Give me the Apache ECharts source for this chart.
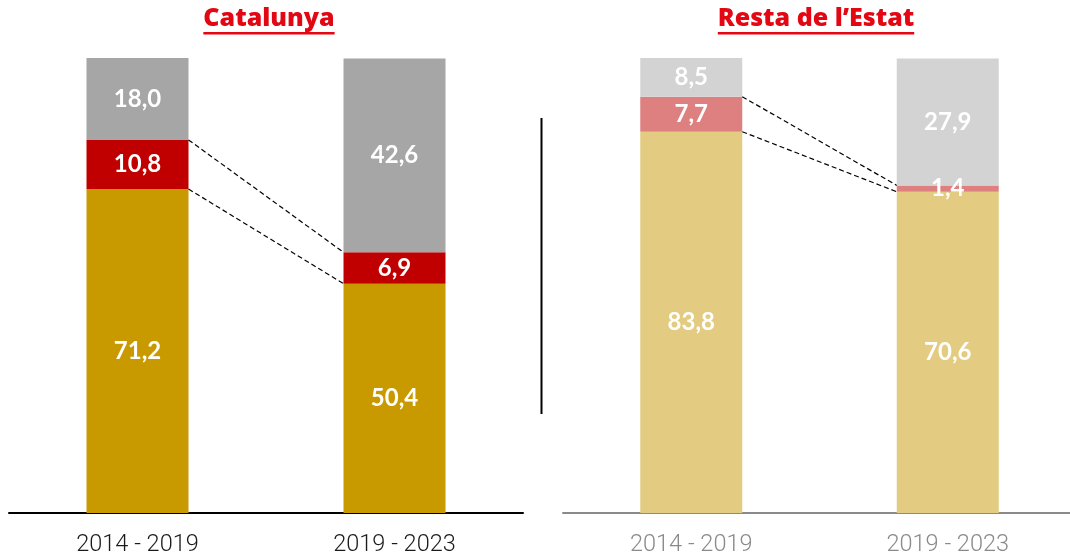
<!DOCTYPE html>
<html>
<head>
<meta charset="utf-8">
<script src="https://cdn.jsdelivr.net/npm/echarts@6/dist/echarts.min.js"></script>
<style>
  html, body { margin: 0; padding: 0; background: #fff; }
  #chart { width: 1070px; height: 556px; }
</style>
</head>
<body>
<div id="chart"></div>
<script>
// periodes
var periods = ['2014 - 2019', '2019 - 2023'];
var panelTitles = ['Catalunya', 'Resta de l\u2019Estat'];

// Catalunya
var catGold = [71.2, 50.4];
var catRed = [10.8, 6.9];
var catGrey = [18.0, 42.6];

// Resta de l'Estat
var restGold = [83.8, 70.6];
var restRed = [7.7, 1.4];
var restGrey = [8.5, 27.9];

var BAR_W = 102;
var TITLE_FONT = '800 25px "Open Sans"';

function fmt(p) {
    return p.value.toFixed(1).replace('.', ',');
}

// mesura text per al subratllat
function textWidth(txt) {
    return echarts.format.getTextRect
        ? echarts.format.getTextRect(txt, TITLE_FONT).width
        : txt.length * 14;
}

function barSeries(name, data, color, idx, stack) {
    return {
        name: name,
        type: 'bar',
        stack: stack,
        xAxisIndex: idx,
        yAxisIndex: idx,
        barWidth: BAR_W,
        data: data,
        itemStyle: { color: color },
        label: {
            show: true,
            position: 'inside',
            color: '#fff',
            fontFamily: 'Lato',
            fontWeight: 'bold',
            fontSize: 24,
            formatter: fmt
        }
    };
}

// linies discontinues entre els trams
function connectorSeries(gold, red, idx) {
    var rows = [
        [0, gold[0] + red[0], gold[1] + red[1]],
        [0, gold[0], gold[1]]
    ];
    return {
        type: 'custom',
        xAxisIndex: idx,
        yAxisIndex: idx,
        encode: { x: 0, y: 1 },
        data: rows,
        z: 5,
        silent: true,
        renderItem: function (params, api) {
            var p0 = api.coord([0, api.value(1)]);
            var p1 = api.coord([1, api.value(2)]);
            return {
                type: 'line',
                shape: { x1: p0[0] + BAR_W / 2, y1: p0[1], x2: p1[0] - BAR_W / 2, y2: p1[1] },
                style: { stroke: '#000', lineWidth: 1.2, lineDash: [5, 3] }
            };
        }
    };
}

function xAxis(idx, lineColor, labelColor) {
    return {
        type: 'category',
        gridIndex: idx,
        data: periods,
        axisTick: { show: false },
        axisLine: { lineStyle: { color: lineColor, width: 2 } },
        axisLabel: {
            color: labelColor,
            fontFamily: 'Roboto',
            fontWeight: 300,
            fontSize: 23.5,
            margin: 20
        }
    };
}

function yAxis(idx) {
    return { type: 'value', gridIndex: idx, min: 0, max: 100, show: false };
}

// titols subratllats
var titleCenters = [269, 816];
var titleGraphics = [];
panelTitles.forEach(function (t, i) {
    var w = textWidth(t);
    titleGraphics.push({
        type: 'text',
        x: titleCenters[i],
        y: 19,
        style: {
            text: t,
            fill: '#e30613',
            font: TITLE_FONT,
            align: 'center',
            verticalAlign: 'middle'
        }
    });
    titleGraphics.push({
        type: 'rect',
        shape: { x: titleCenters[i] - w / 2, y: 32, width: w, height: 2.5 },
        style: { fill: '#e30613' }
    });
});

var option = {
    animation: false,
    grid: [
        { left: 9, top: 58, width: 514, height: 455, outerBoundsMode: 'none' },
        { left: 563, top: 58, width: 513, height: 455, outerBoundsMode: 'none' }
    ],
    xAxis: [xAxis(0, '#000', '#1a1a1a'), xAxis(1, '#8a8a8a', '#8a8a8a')],
    yAxis: [yAxis(0), yAxis(1)],
    graphic: titleGraphics.concat([{
        type: 'line',
        shape: { x1: 541.5, y1: 118, x2: 541.5, y2: 414 },
        style: { stroke: '#000', lineWidth: 2 }
    }]),
    series: [
        barSeries('gold', catGold, '#c89a00', 0, 'cat'),
        barSeries('red', catRed, '#c00000', 0, 'cat'),
        barSeries('grey', catGrey, '#a6a6a6', 0, 'cat'),
        barSeries('gold', restGold, '#e3cc82', 1, 'rest'),
        barSeries('red', restRed, '#df8080', 1, 'rest'),
        barSeries('grey', restGrey, '#d3d3d3', 1, 'rest'),
        connectorSeries(catGold, catRed, 0),
        connectorSeries(restGold, restRed, 1)
    ]
};

var myChart = echarts.init(document.getElementById('chart'));
myChart.setOption(option);
</script>
</body>
</html>
